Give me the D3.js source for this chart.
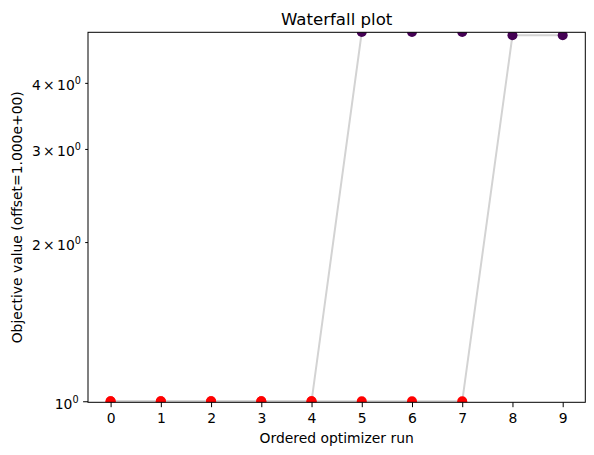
<!DOCTYPE html>
<html>
<head>
<meta charset="utf-8">
<script src="https://cdn.jsdelivr.net/npm/d3@7"></script>
<style>
  html, body { margin: 0; padding: 0; background: #fff; }
  svg { display: block; font-family: "DejaVu Sans", sans-serif; }
</style>
</head>
<body>
<div id="chart"></div>
<script>
// Two waterfall traces, objective value already shifted by the offset
const runsA = [0, 1, 2, 3, 4, 5, 6, 7];
const valuesA = [1, 1, 1, 1, 1, 4.99, 4.99, 4.99];
const runsB = [0, 1, 2, 3, 4, 5, 6, 7, 8, 9];
const valuesB = [1, 1, 1, 1, 1, 1, 1, 1, 4.92, 4.92];

const xTicks = [0, 1, 2, 3, 4, 5, 6, 7, 8, 9];
const yMajorTicks = [1];
const yMinorTicks = [2, 3, 4];

const title = "Waterfall plot";
const xLabel = "Ordered optimizer run";
const yLabel = "Objective value (offset=1.000e+00)";

const width = 594, height = 455;
const plotLeft = 88, plotRight = 585.3, plotTop = 32.3, plotBottom = 402.3;
const fontSize = 13.9;

const svg = d3.select("#chart").append("svg")
    .attr("width", width)
    .attr("height", height);

const x = d3.scaleLinear().domain([-0.45, 9.45]).range([plotLeft, plotRight]);
const y = d3.scaleLog().domain([0.9955, 4.985]).range([plotBottom, plotTop]);

svg.append("defs").append("clipPath").attr("id", "plot-clip")
    .append("rect")
    .attr("x", plotLeft).attr("y", plotTop)
    .attr("width", plotRight - plotLeft).attr("height", plotBottom - plotTop);

const plot = svg.append("g").attr("clip-path", "url(#plot-clip)");

const series = [
    { runs: runsA, values: valuesA },
    { runs: runsB, values: valuesB }
];

const line = d3.line()
    .x(d => x(d[0]))
    .y(d => y(d[1]));

// lines first, then the markers on top
series.forEach(s => {
    plot.append("path")
        .datum(s.runs.map((r, i) => [r, s.values[i]]))
        .attr("fill", "none")
        .attr("stroke", "#d3d3d3")
        .attr("stroke-width", 2)
        .attr("d", line);
});

series.forEach(s => {
    const best = d3.min(s.values);
    plot.selectAll(null)
        .data(s.runs.map((r, i) => [r, s.values[i]]))
        .enter().append("circle")
        .attr("cx", d => x(d[0]))
        .attr("cy", d => y(d[1]))
        .attr("r", 5)
        .attr("fill", d => d[1] === best ? "#ff0000" : "#440154");
});

// x axis
const xAxis = svg.append("g")
    .attr("transform", `translate(0,${plotBottom})`)
    .call(d3.axisBottom(x).tickValues(xTicks).tickSize(4.9).tickPadding(6.3).tickFormat(d3.format("d")));
xAxis.select(".domain").remove();
xAxis.selectAll("text").attr("font-size", fontSize).attr("fill", "#000").attr("font-family", "DejaVu Sans");
xAxis.selectAll("line").attr("stroke", "#000").attr("stroke-width", 1);

// y axis: major and minor ticks, labelled as in matplotlib
function yLabelText(sel) {
    sel.each(function(d) {
        const t = d3.select(this).text(null);
        if (d === 1) {
            t.append("tspan").text("10");
        } else {
            t.append("tspan").text(d + "\u2006\u00d7\u200610");
        }
        t.append("tspan").attr("dy", -6).attr("font-size", 9.7).text("0");
    });
}

const yMajor = svg.append("g")
    .attr("transform", `translate(${plotLeft},0)`)
    .call(d3.axisLeft(y).tickValues(yMajorTicks).tickSize(4.9).tickPadding(4.5));
const yMinor = svg.append("g")
    .attr("transform", `translate(${plotLeft},0)`)
    .call(d3.axisLeft(y).tickValues(yMinorTicks).tickSize(2.8).tickPadding(4.3));
[yMajor, yMinor].forEach(g => {
    g.select(".domain").remove();
    g.selectAll("line").attr("stroke", "#000").attr("stroke-width", 1);
    g.selectAll("text")
        .attr("font-size", fontSize).attr("fill", "#000").attr("font-family", "DejaVu Sans")
        .attr("dy", "0.5em")
        .call(yLabelText);
});

// frame
svg.append("rect")
    .attr("x", plotLeft).attr("y", plotTop)
    .attr("width", plotRight - plotLeft).attr("height", plotBottom - plotTop)
    .attr("fill", "none").attr("stroke", "#000").attr("stroke-width", 1);

svg.append("text")
    .attr("x", (plotLeft + plotRight) / 2).attr("y", 24.5)
    .attr("text-anchor", "middle").attr("font-size", 16.6)
    .text(title);

svg.append("text")
    .attr("x", (plotLeft + plotRight) / 2).attr("y", 443)
    .attr("text-anchor", "middle").attr("font-size", fontSize)
    .text(xLabel);

svg.append("text")
    .attr("transform", `translate(21.5,${(plotTop + plotBottom) / 2}) rotate(-90)`)
    .attr("text-anchor", "middle").attr("font-size", fontSize)
    .text(yLabel);
</script>
</body>
</html>
